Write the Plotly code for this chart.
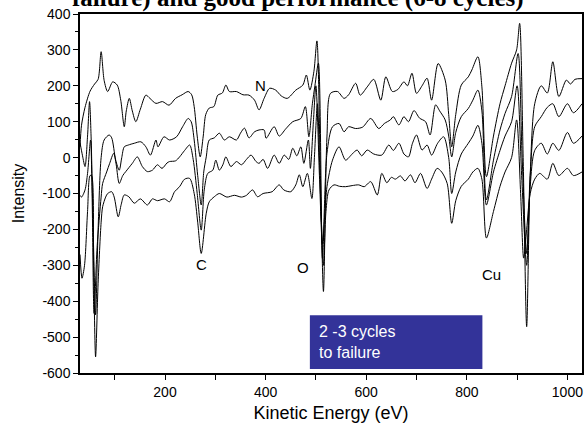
import plotly.graph_objects as go

# Curve A (top)
eA = [31, 34, 41, 51, 60, 67, 73, 79, 86, 96, 105, 112, 119, 123, 129, 135, 142, 151, 162, 170,
      182, 195, 208, 221, 234, 246, 253, 258, 264, 270, 276, 281, 288, 297, 305, 314, 321, 328, 342, 355,
      367, 378, 387, 397, 408, 420, 431, 443, 460, 474, 481, 488, 496, 502, 509, 515, 522, 529, 543, 556,
      565, 579, 588, 602, 615, 629, 639, 652, 663, 675, 682, 691, 700, 711, 721, 730, 743, 757, 764, 770,
      778, 789, 803, 810, 822, 830, 839, 853, 866, 876, 889, 899, 905, 912, 919, 926, 935, 948, 960, 971,
      983, 998, 1006, 1015, 1029]
iA = [30, 90, 140, 185, 205, 218, 295, 215, 184, 211, 202, 160, 86, 130, 165, 130, 100, 135, 174, 165,
      151, 156, 146, 165, 175, 184, 175, 142, 60, 2, 60, 120, 138, 142, 174, 180, 202, 184, 184, 175,
      174, 160, 133, 165, 193, 188, 172, 165, 188, 202, 230, 188, 240, 325, -50, -373, 60, 179, 184, 165,
      175, 207, 174, 197, 218, 160, 225, 184, 190, 211, 200, 235, 179, 200, 221, 160, 262, 216, 120, 30,
      120, 202, 225, 244, 281, 197, -53, 60, 150, 200, 263, 300, 374, 0, -471, -50, 150, 200, 180, 267,
      170, 216, 205, 218, 220]

# Curve B
eB = [31, 36, 41, 46, 50, 53, 58, 62, 67, 73, 79, 89, 94, 102, 109, 114, 119, 127, 139, 152,
      162, 171, 182, 186, 198, 209, 223, 235, 246, 252, 258, 265, 272, 277, 282, 288, 298, 308, 318, 328,
      342, 350, 358, 367, 378, 387, 397, 401, 417, 427, 440, 454, 470, 479, 486, 493, 498, 505, 513, 522,
      533, 546, 556, 565, 579, 593, 609, 625, 636, 648, 654, 665, 675, 684, 695, 706, 718, 727, 738, 746,
      757, 764, 770, 778, 789, 803, 812, 822, 830, 839, 853, 866, 876, 889, 902, 910, 919, 926, 935, 948,
      960, 971, 983, 1000, 1012, 1029]
iB = [42, 5, -25, 60, 156, 60, -250, -438, -200, 0, 49, 63, 55, -7, -35, 0, 30, 35, 40, 44,
      30, 7, 49, 30, 58, 49, 58, 86, 109, 100, 49, -50, -132, -40, 2, 49, 55, 68, 49, 58,
      49, 68, 82, 55, 72, 77, 77, 54, 86, 60, 80, 100, 109, 142, 58, 150, 200, 263, -281, 12,
      86, 95, 72, 86, 81, 85, 109, 81, 95, 105, 114, 91, 114, 100, 131, 110, 100, 63, 147, 130,
      105, 60, 2, 70, 114, 137, 160, 188, 130, -118, -7, 77, 123, 170, 290, 0, -267, -50, 86, 114,
      140, 150, 114, 150, 125, 150]

# Curve C
eC = [31, 34, 41, 46, 52, 55, 59, 65, 73, 76, 84, 90, 98, 103, 109, 116, 122, 135, 145, 155,
      165, 175, 185, 194, 204, 209, 221, 229, 239, 249, 256, 264, 272, 278, 285, 295, 301, 308, 315, 321,
      331, 342, 352, 362, 371, 381, 387, 395, 404, 417, 427, 437, 446, 454, 462, 470, 476, 485, 489, 495,
      500, 507, 513, 522, 533, 546, 559, 572, 582, 591, 602, 615, 631, 645, 654, 665, 675, 684, 692, 700,
      711, 721, 730, 742, 754, 764, 770, 778, 789, 803, 812, 822, 830, 839, 853, 866, 876, 889, 900, 909,
      919, 926, 935, 948, 960, 971, 983, 1000, 1012, 1029]
iC = [-105, -110, -90, -44, 49, -100, -434, -250, -110, -72, -40, -16, 12, -20, -72, -50, -39, -16, 2, -25,
      -39, -35, -20, -30, -15, -11, -9, 2, 20, 35, -5, -100, -202, -90, -44, -35, -7, -35, -20, 2,
      -25, -11, -20, -5, 7, -11, -16, -5, -30, 7, -16, 7, -5, 26, 5, 30, -16, 49, -30, 100,
      200, -50, -240, -81, -7, 30, -7, 10, 21, 5, 21, 10, 7, 35, 20, 40, 10, 2, 40, 63,
      21, 35, 7, 40, 58, 0, -100, -40, 10, 40, 60, 90, 40, -132, -40, 20, 60, 100, 200, -50,
      -300, -80, 20, 40, 10, 40, 20, 70, 40, 60]

# Curve D (bottom)
eD = [31, 35, 40, 46, 51, 54, 58, 62, 67, 73, 76, 82, 86, 94, 99, 107, 113, 119, 128, 139,
      151, 165, 175, 185, 199, 209, 219, 229, 239, 249, 258, 265, 272, 282, 288, 298, 308, 323, 338, 352,
      362, 374, 384, 395, 413, 427, 436, 450, 460, 467, 474, 483, 492, 497, 503, 509, 515, 520, 526, 536,
      547, 559, 572, 585, 596, 609, 622, 631, 641, 650, 658, 668, 677, 688, 697, 708, 721, 730, 741, 750,
      761, 770, 778, 789, 803, 812, 822, 830, 839, 853, 866, 876, 889, 899, 907, 913, 919, 926, 935, 945,
      960, 971, 983, 1000, 1012, 1029]
iD = [-270, -336, -300, -150, -50, -50, -300, -555, -350, -180, -137, -110, -100, -95, -110, -165, -130, -104, -109, -127,
      -115, -132, -115, -120, -115, -123, -95, -81, -60, -58, -100, -180, -267, -155, -123, -109, -100, -110, -105, -110,
      -105, -90, -109, -100, -95, -76, -90, -95, -76, -48, -81, -44, -114, 0, 150, -100, -300, -150, -90, -76,
      -80, -81, -78, -76, -81, -67, -104, -44, -70, -55, -60, -51, -65, -48, -70, -44, -86, -60, -30, -40,
      -72, -183, -120, -80, -60, -40, -30, -60, -224, -150, -80, -40, 0, 105, -100, -280, -200, -100, -60, -44,
      -60, -16, -50, -30, -50, -40]

peak_labels = ["N", "C", "O", "Cu"]
peak_x = [389, 273, 474, 850]
peak_y = [200, -299, -307, -325]

x_ticks = [200, 400, 600, 800, 1000]
y_ticks = [400, 300, 200, 100, 0, -100, -200, -300, -400, -500, -600]
y_tick_text = ["400", "300", "200", "100", "0", "-100", "-200", "-300", "-400", "-500", "-600"]

title_text = "failure) and good performance (6-8 cycles)"
box_text = "2 -3 cycles<br>to failure"
x_title = "Kinetic Energy (eV)"
y_title = "Intensity"

fig = go.Figure()
for ex, iy in [(eA, iA), (eB, iB), (eC, iC), (eD, iD)]:
    fig.add_trace(go.Scatter(x=ex, y=iy, mode="lines",
                             line=dict(color="black", width=1, shape="spline", smoothing=0.8),
                             showlegend=False, hoverinfo="skip"))

for t, x, y in zip(peak_labels, peak_x, peak_y):
    fig.add_annotation(x=x, y=y, text=t, showarrow=False,
                       font=dict(family="Liberation Sans, Arial", size=15, color="black"))

# legend-like box
fig.add_shape(type="rect", xref="x", yref="y", x0=488, x1=831, y0=-589, y1=-439,
              fillcolor="#333399", line=dict(width=0), layer="above")
fig.add_annotation(x=502, y=-514, xref="x", yref="y", text=box_text, showarrow=False,
                   xanchor="left", yanchor="middle", align="left",
                   font=dict(family="Liberation Sans, Arial", size=16, color="white"))

fig.add_annotation(x=0.435, y=1.0, xref="paper", yref="paper", text="<b>" + title_text + "</b>",
                   showarrow=False, xanchor="center", yanchor="bottom",
                   font=dict(family="Liberation Serif, Times New Roman", size=25, color="black"))

fig.update_layout(
    width=586, height=432,
    margin=dict(l=80, r=2, t=14, b=59),
    paper_bgcolor="white", plot_bgcolor="white",
    font=dict(family="Liberation Sans, Arial", size=14, color="black"),
)
fig.update_xaxes(range=[31, 1029], tickmode="array", tickvals=x_ticks,
                 ticks="outside", ticklen=5, tickwidth=1, tickcolor="black",
                 minor=dict(tickvals=[100, 300, 500, 700, 900], ticks="outside", ticklen=5, tickcolor="black"),
                 showline=True, linecolor="black", linewidth=1.5, mirror=True, showgrid=False, zeroline=False,
                 title=dict(text=x_title, font=dict(size=18), standoff=8))
fig.update_yaxes(range=[-600, 400], tickmode="array", tickvals=y_ticks, ticktext=y_tick_text,
                 ticks="outside", ticklen=5, tickwidth=1, tickcolor="black",
                 minor=dict(dtick=50, ticks="outside", ticklen=3, tickcolor="black"),
                 showline=True, linecolor="black", linewidth=1.5, mirror=True, showgrid=False, zeroline=False,
                 title=dict(text=y_title, font=dict(size=16), standoff=14))

fig.write_html("out.html")
